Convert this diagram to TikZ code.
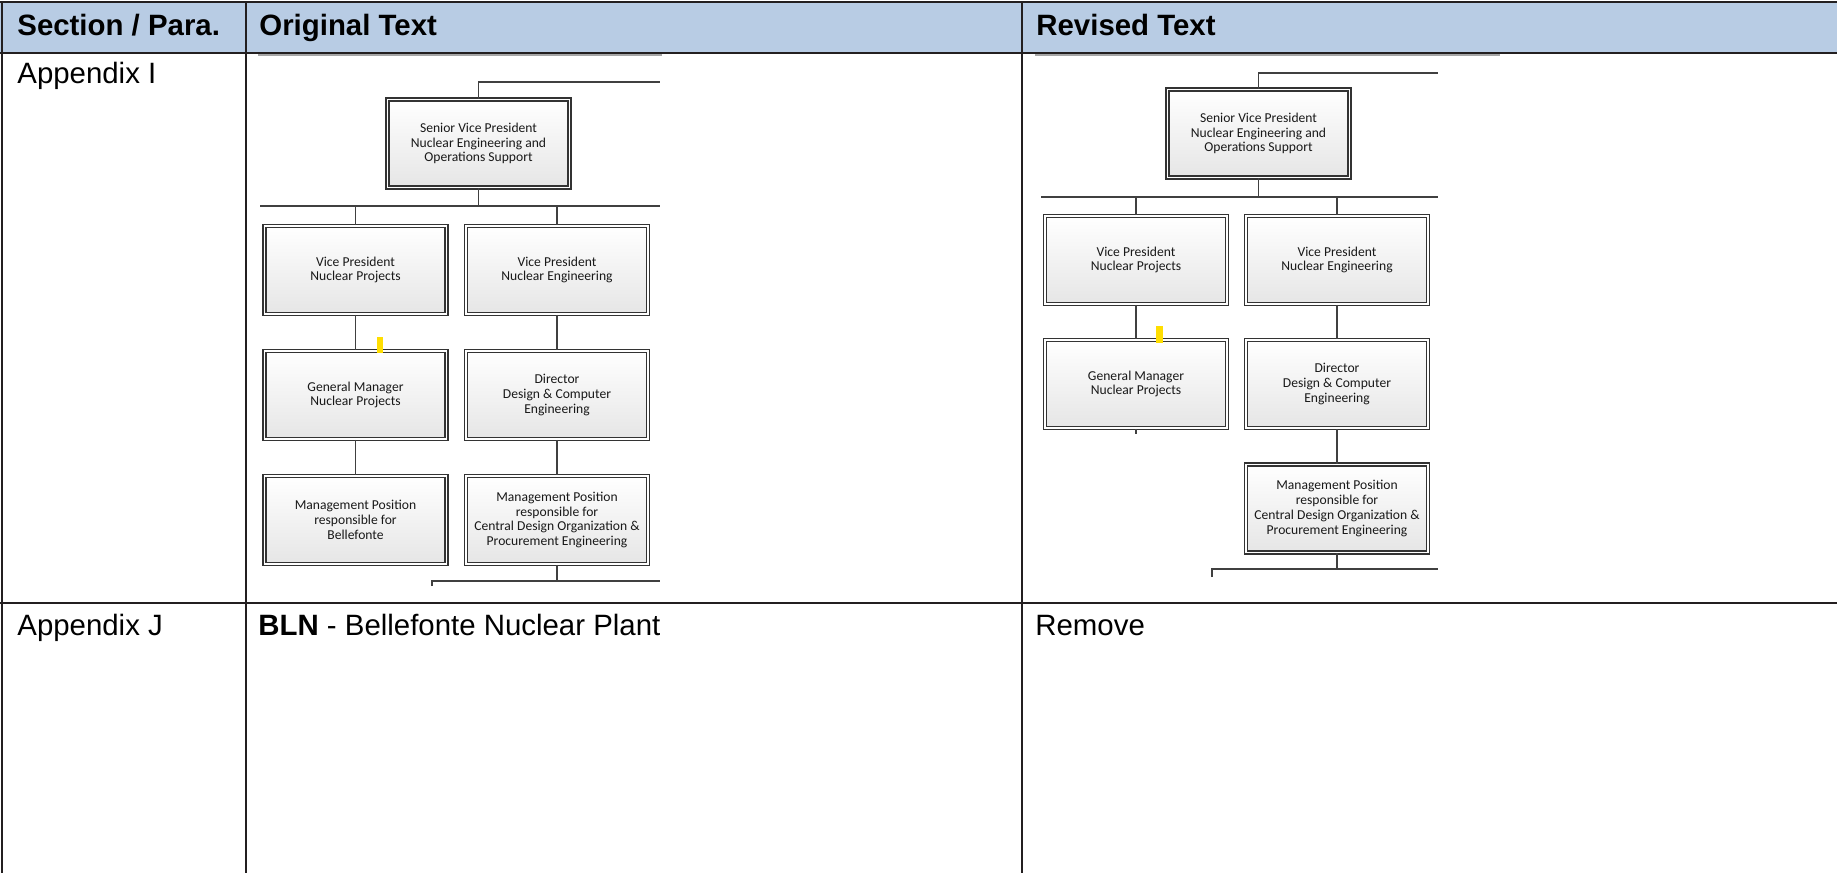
\documentclass[tikz,border=0pt]{standalone}
\usepackage{fontspec}
\setmainfont{Liberation Sans}
\newfontfamily\chartfont{Carlito}
\usetikzlibrary{calc,shadows}
\definecolor{headblue}{RGB}{184,204,228}
\definecolor{rulegray}{RGB}{35,31,32}
\definecolor{markyellow}{RGB}{255,222,0}

\begin{document}
\begin{tikzpicture}[x=0.5pt,y=-0.5pt,
  rule/.style={draw=rulegray,line width=1.1pt},
  cell/.style={anchor=base west,inner sep=0pt,font=\fontsize{14.7}{17}\selectfont},
  headcell/.style={cell,font=\fontsize{14.7}{17}\selectfont\bfseries},
  orgbox/.style={draw=black!80,double=white,double distance=0.7pt,line width=0.85pt,
    top color=white,bottom color=black!10,minimum width=91pt,minimum height=44pt,
    inner sep=1pt,align=center,text=black!90,
    font=\chartfont\fontsize{6.8}{7.4}\selectfont,
    drop shadow={shadow xshift=0.8pt,shadow yshift=-0.8pt,fill=black!25}},
  orgline/.style={draw=black!75,line width=0.7pt},
  hilite/.style={fill=markyellow}]
  \useasboundingbox (0,0) rectangle (1837,873);
  % table
  \fill[headblue] (0,2) rectangle (1837,53);
  \draw[black!35,line width=0.7pt] (258,54.8) -- (662,54.8) (1035,54.8) -- (1500,54.8);
  \draw[rule] (0,2) -- (1837,2);
  \draw[rule] (0,53) -- (1837,53);
  \draw[rule] (0,603) -- (1837,603);
  \foreach \x in {2,246,1022} \draw[rule] (\x,2) -- (\x,873);
  \node[headcell] (hsec) at (17,35) {Section / Para.};
  \node[headcell] (horig) at (259,35) {Original Text};
  \node[headcell] (hrev) at (1036,35) {Revised Text};
  \node[cell] (appI) at (17,83) {Appendix I};
  \node[cell] (appJ) at (17,635) {Appendix J};
  \node[cell] (blnOrig) at (258,635) {{\bfseries BLN} - Bellefonte Nuclear Plant};
  \node[cell] (blnRev) at (1035,635) {Remove};

  % original chart
  \node[orgbox] (svpL) at (478.5,143.5) {Senior Vice President\\Nuclear Engineering and\\Operations Support};
  \node[orgbox] (vpnpL) at (355.5,270) {Vice President\\Nuclear Projects};
  \node[orgbox] (vpneL) at (557,270) {Vice President\\Nuclear Engineering};
  \node[orgbox] (gmL) at (355.5,395) {General Manager\\Nuclear Projects};
  \node[orgbox] (dirL) at (557,395) {Director\\Design \& Computer\\Engineering};
  \node[orgbox] (mpbL) at (355.5,520) {Management Position\\responsible for\\Bellefonte};
  \node[orgbox] (mpcL) at (557,520) {Management Position\\responsible for\\Central Design Organization \&\\Procurement Engineering};
  \coordinate (topL) at (660,82);
  \coordinate (busLa) at (260,206); \coordinate (busLb) at (660,206);
  \coordinate (botLa) at (432,581); \coordinate (botLb) at (660,581);
  \draw[orgline] (svpL.north) |- (topL);
  \draw[orgline] (busLa) -- (busLb);
  \draw[orgline] (svpL.south) -- (svpL.south |- busLa);
  \draw[orgline] (vpnpL.north) -- (vpnpL.north |- busLa);
  \draw[orgline] (vpneL.north) -- (vpneL.north |- busLa);
  \draw[orgline] (vpnpL) -- (gmL) (gmL) -- (mpbL);
  \draw[orgline] (vpneL) -- (dirL) (dirL) -- (mpcL);
  \draw[orgline] (mpcL.south) -- (mpcL.south |- botLa);
  \draw[orgline] (botLa) ++(0,5) |- (botLb);
  \fill[hilite] (377,337) rectangle (383,353);

  % revised chart
  \node[orgbox] (svpR) at (1258.5,133.5) {Senior Vice President\\Nuclear Engineering and\\Operations Support};
  \node[orgbox] (vpnpR) at (1136,260) {Vice President\\Nuclear Projects};
  \node[orgbox] (vpneR) at (1337,260) {Vice President\\Nuclear Engineering};
  \node[orgbox] (gmR) at (1136,384) {General Manager\\Nuclear Projects};
  \node[orgbox] (dirR) at (1337,384) {Director\\Design \& Computer\\Engineering};
  \node[orgbox] (mpcR) at (1337,508.5) {Management Position\\responsible for\\Central Design Organization \&\\Procurement Engineering};
  \coordinate (topR) at (1438,73);
  \coordinate (busRa) at (1041,197); \coordinate (busRb) at (1438,197);
  \coordinate (botRa) at (1212,569); \coordinate (botRb) at (1438,569);
  \draw[orgline] (svpR.north) |- (topR);
  \draw[orgline] (busRa) -- (busRb);
  \draw[orgline] (svpR.south) -- (svpR.south |- busRa);
  \draw[orgline] (vpnpR.north) -- (vpnpR.north |- busRa);
  \draw[orgline] (vpneR.north) -- (vpneR.north |- busRa);
  \draw[orgline] (vpnpR) -- (gmR) (gmR.south) -- ++(0,5);
  \draw[orgline] (vpneR) -- (dirR) (dirR) -- (mpcR);
  \draw[orgline] (mpcR.south) -- (mpcR.south |- botRa);
  \draw[orgline] (botRa) ++(0,8) |- (botRb);
  \fill[hilite] (1156,326) rectangle (1163,343);
\end{tikzpicture}
\end{document}
